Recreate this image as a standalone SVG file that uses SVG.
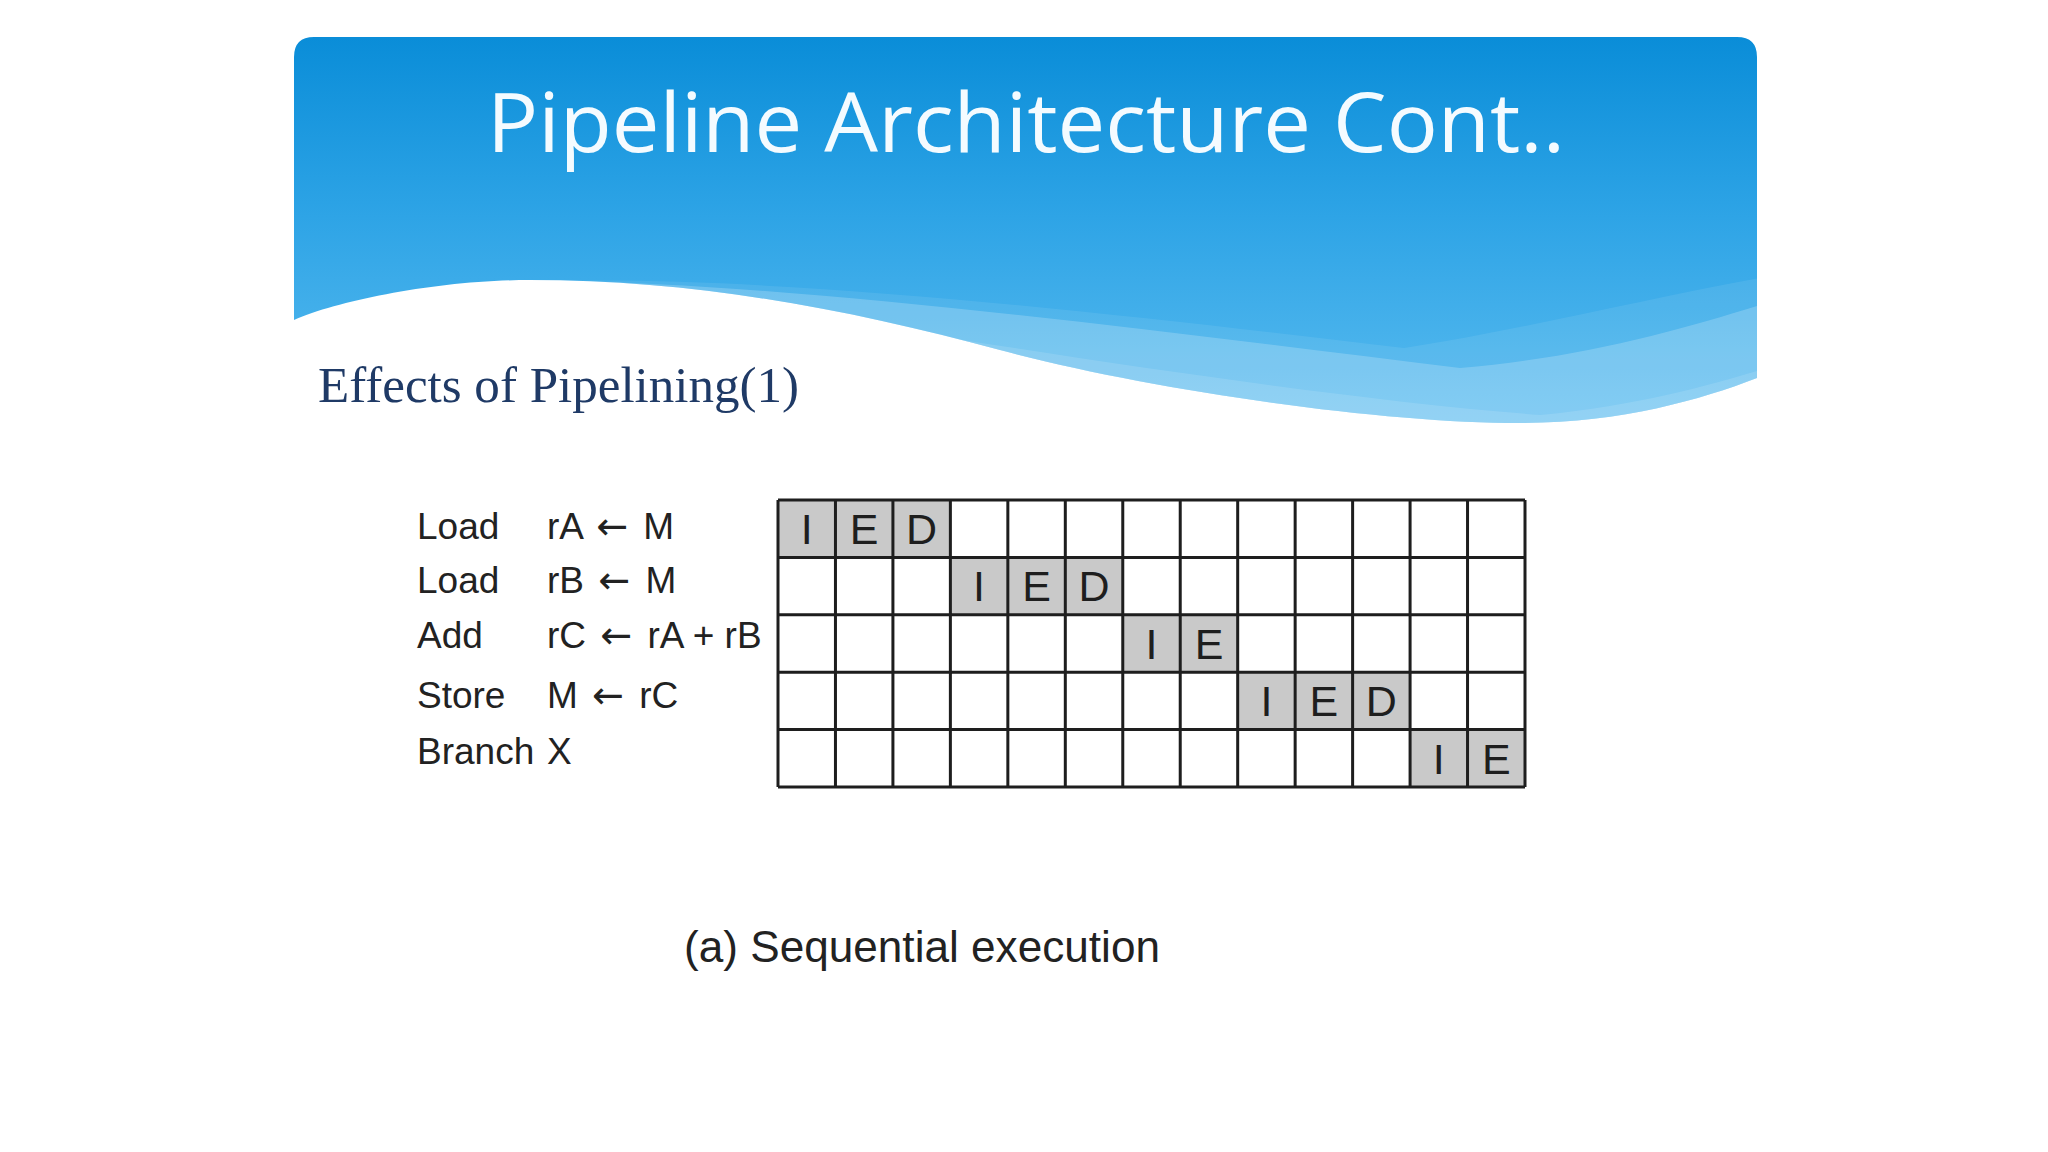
<svg xmlns="http://www.w3.org/2000/svg" width="2048" height="1152" viewBox="0 0 2048 1152">
  <defs>
    <linearGradient id="hdrGrad" x1="0" y1="0" x2="0" y2="1" gradientUnits="objectBoundingBox">
      <stop offset="0" stop-color="#0a8dd8"/>
      <stop offset="0.45" stop-color="#2ea4e6"/>
      <stop offset="1" stop-color="#5cbdf0"/>
    </linearGradient>
    <clipPath id="hdrClip">
      <path d="M294,320 L294,57 Q294,37 314,37 L1737,37 Q1757,37 1757,57 L1757,378 C1700,400 1620,423 1520,423 C1380,423 1150,390 1000,350 C850,310 700,280 530,280 C440,280 340,300 294,320 Z"/>
    </clipPath>
  </defs>
  <style>
    .lbl { font-family: "Liberation Sans", Arial, sans-serif; font-size: 37px; fill: #222222; }
    .arr { font-family: "DejaVu Sans", sans-serif; font-size: 38px; }
    .cell { font-family: "Liberation Sans", Arial, sans-serif; font-size: 43px; fill: #1e1e1e; text-anchor: middle; }
    .shade { fill: #c9c9c9; }
    .gridline { stroke: #1e1e1e; stroke-width: 3; fill: none; }
  </style>
  <rect x="0" y="0" width="2048" height="1152" fill="#ffffff"/>

  <g id="header">
    <g clip-path="url(#hdrClip)">
      <rect x="294" y="37" width="1463" height="400" fill="url(#hdrGrad)"/>
      <path d="M560,281 C800,276 1150,318 1404,348 C1520,330 1640,300 1760,278 L1760,440 L560,440 Z" fill="#ffffff" opacity="0.08"/>
      <path d="M560,281 C800,284 1150,330 1460,368 C1580,358 1680,330 1760,305 L1760,440 L560,440 Z" fill="#ffffff" opacity="0.2"/>
      <path d="M900,330 C1100,362 1350,400 1540,415 C1640,405 1710,385 1760,370 L1760,440 L900,440 Z" fill="#ffffff" opacity="0.12"/>
    </g>
    <text x="487" y="152" font-family="'Open Sans', 'Noto Sans', sans-serif" font-size="82" fill="#f4fbff" textLength="1078" lengthAdjust="spacingAndGlyphs">Pipeline Architecture Cont..</text>
  </g>

  <g id="subtitle">
    <text x="318" y="402" font-family="'Liberation Serif', 'Times New Roman', serif" font-size="51" fill="#1f3a66" textLength="481" lengthAdjust="spacingAndGlyphs">Effects of Pipelining(1)</text>
  </g>

  <g id="instructions">
    <text class="lbl" x="417" y="539">Load</text><text class="lbl" x="547" y="539">rA <tspan class="arr" dx="4">←</tspan><tspan dx="5"> M</tspan></text>
    <text class="lbl" x="417" y="593">Load</text><text class="lbl" x="547" y="593">rB <tspan class="arr" dx="4">←</tspan><tspan dx="5"> M</tspan></text>
    <text class="lbl" x="417" y="648">Add</text><text class="lbl" x="547" y="648">rC <tspan class="arr" dx="4">←</tspan><tspan dx="5"> rA + rB</tspan></text>
    <text class="lbl" x="417" y="708">Store</text><text class="lbl" x="547" y="708">M <tspan class="arr" dx="4">←</tspan><tspan dx="5"> rC</tspan></text>
    <text class="lbl" x="417" y="764">Branch</text><text class="lbl" x="547" y="764">X</text>
  </g>

  <g id="timing-grid">
    <rect class="shade" x="778" y="500" width="172.38" height="57.4"/>
    <rect class="shade" x="950.38" y="557.4" width="172.39" height="57.4"/>
    <rect class="shade" x="1122.77" y="614.8" width="114.92" height="57.4"/>
    <rect class="shade" x="1237.69" y="672.2" width="172.39" height="57.4"/>
    <rect class="shade" x="1410.08" y="729.6" width="114.92" height="57.4"/>
    <path class="gridline" d="M778,500 H1525 M778,557.4 H1525 M778,614.8 H1525 M778,672.2 H1525 M778,729.6 H1525 M778,787 H1525
      M778,500 V787 M835.46,500 V787 M892.92,500 V787 M950.38,500 V787 M1007.85,500 V787 M1065.31,500 V787 M1122.77,500 V787
      M1180.23,500 V787 M1237.69,500 V787 M1295.15,500 V787 M1352.62,500 V787 M1410.08,500 V787 M1467.54,500 V787 M1525,500 V787"/>
    <text class="cell" x="806.7" y="544">I</text>
    <text class="cell" x="864.2" y="544">E</text>
    <text class="cell" x="921.6" y="544">D</text>
    <text class="cell" x="979.1" y="601.4">I</text>
    <text class="cell" x="1036.6" y="601.4">E</text>
    <text class="cell" x="1094" y="601.4">D</text>
    <text class="cell" x="1151.5" y="658.8">I</text>
    <text class="cell" x="1209" y="658.8">E</text>
    <text class="cell" x="1266.4" y="716.2">I</text>
    <text class="cell" x="1323.9" y="716.2">E</text>
    <text class="cell" x="1381.3" y="716.2">D</text>
    <text class="cell" x="1438.8" y="773.6">I</text>
    <text class="cell" x="1496.3" y="773.6">E</text>
  </g>

  <g id="caption">
    <text x="684" y="962" font-family="'Liberation Sans', Arial, sans-serif" font-size="44" fill="#222222" textLength="476" lengthAdjust="spacingAndGlyphs">(a) Sequential execution</text>
  </g>
</svg>
